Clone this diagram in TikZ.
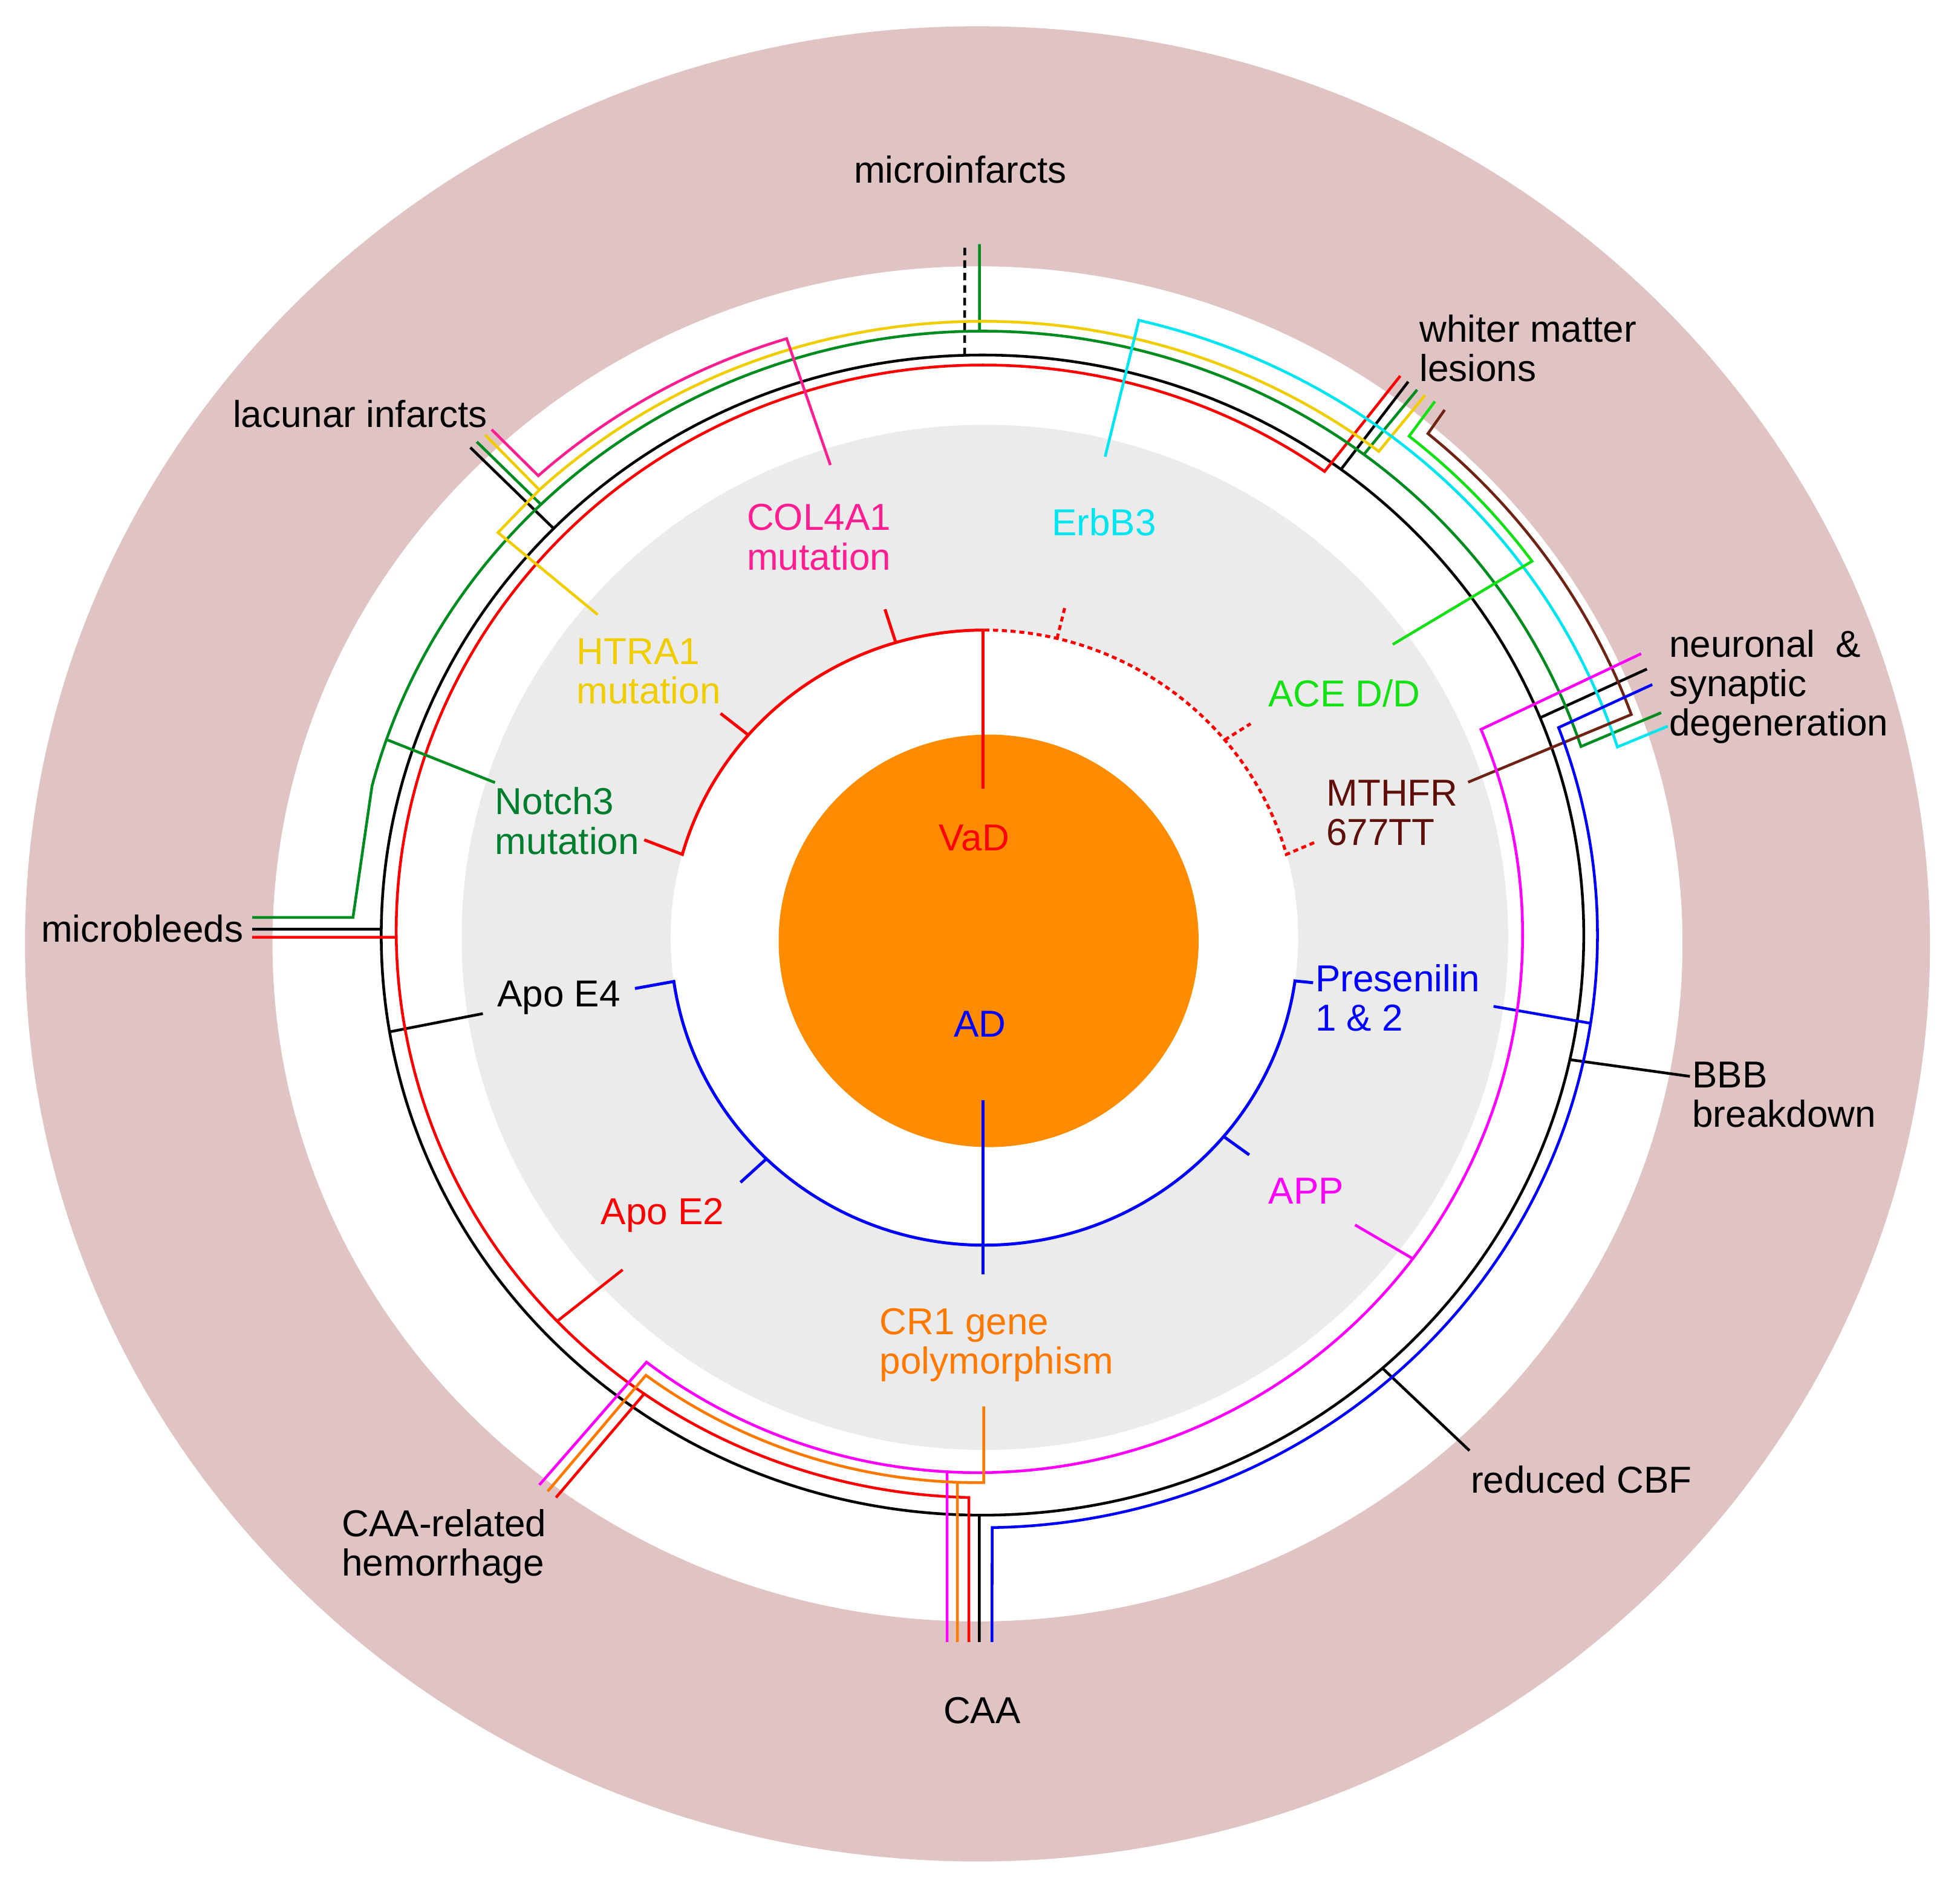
\documentclass[tikz,border=0pt]{standalone}
\usepackage{fontspec}
\setmainfont{Liberation Sans}
\definecolor{ringpink}{RGB}{224,195,195}
\definecolor{diskgray}{RGB}{235,235,235}
\definecolor{coreorange}{RGB}{255,140,0}
\definecolor{cred}{RGB}{255,0,0}
\definecolor{cdkgreen}{RGB}{0,140,30}
\definecolor{cnotch}{RGB}{0,125,45}
\definecolor{cyellow}{RGB}{240,205,0}
\definecolor{cdpink}{RGB}{255,30,145}
\definecolor{cmag}{RGB}{255,0,255}
\definecolor{ccyan}{RGB}{0,230,240}
\definecolor{cltgreen}{RGB}{20,225,20}
\definecolor{cbrown}{RGB}{110,35,20}
\definecolor{cbrowntxt}{RGB}{95,15,10}
\definecolor{cblue}{RGB}{0,0,255}
\definecolor{corange}{RGB}{255,120,0}
\newcommand\lblfont{\fontsize{30}{31.5}\selectfont}
\begin{document}
\begin{tikzpicture}[x=1pt,y=1pt,
  ln/.style={line width=2.2pt},
  lni/.style={line width=2.4pt},
  dotline/.style={dash pattern=on 4pt off 3pt},
  dashline/.style={dash pattern=on 6pt off 4pt},
  lbl/.style={font=\lblfont, inner sep=0pt, align=left}]
\useasboundingbox (-786,-759) rectangle (782,748);
% rings and disks
\fill[ringpink, even odd rule] (-4,-7) ellipse [x radius=762, y radius=734] (-4,-7) ellipse [x radius=564, y radius=542];
\fill[diskgray] (1.9,-1.8) ellipse [x radius=418.6, y radius=410];
\fill[white] (1.5,-2) ellipse [x radius=251, y radius=246];
\fill[coreorange] (4.9,-4.6) ellipse [x radius=168, y radius=165];

% inner VaD / AD arcs
\begin{scope}[shift={(1.5,-2)}]
  \draw[lni, cred] (-272.1,78.2) -- (164.3:251 and 246) arc[start angle=164.3, end angle=90, x radius=251, y radius=246];
  \draw[lni, cred, dotline] (90:251 and 246) arc[start angle=90, end angle=15.7, x radius=251, y radius=246] -- (264.8,76.4);
  \draw[lni, cred] (-1,246) -- (-1,119);
  \draw[lni, cred] (106.4:251 and 246) -- (-79.5,262.6);
  \draw[lni, cred] (138.8:251 and 246) -- (-211,179.3);
  \draw[lni, cred, dotline] (76.6:251 and 246) -- (64.9,266.2);
  \draw[lni, cred, dotline] (40:251 and 246) -- (213,171.1);
  \draw[lni, cblue] (-279.5,-40.7) -- (188.2:251 and 246) arc[start angle=188.2, end angle=351.9, x radius=251, y radius=246] -- (263,-36.1);
  \draw[lni, cblue] (226:251 and 246) -- (-195.1,-195.8);
  \draw[lni, cblue] (319.7:251 and 246) -- (211.9,-173.8);
  \draw[lni, cblue] (-1,-130.1) -- (-1,-269.6);
\end{scope}

% black circle and its ticks
\draw[ln, black] (0,0) ellipse [x radius=481, y radius=464];
\draw[ln, black, dashline] (91.7:481 and 464) -- (-14.2,552.7);
\draw[ln, black] (135.5:481 and 464) -- (-409.7,390);
\draw[ln, black] (179.42:481 and 464) -- (-584.2,4.7);
\draw[ln, black] (189.6:481 and 464) -- (-399.7,-62.8);
\draw[ln, black] (53.4:481 and 464) -- (340.6,442.7);
\draw[ln, black] (22:481 and 464) -- (531.5,212.8);
\draw[ln, black] (-12.4:481 and 464) -- (565.9,-113);
\draw[ln, black] (-48.3:481 and 464) -- (389.6,-412.4);
\draw[ln, black] (269.7:481 and 464) -- (-2.5,-565.4);

% red outer arc
\begin{scope}[shift={(0,3)}]
  \draw[ln, cred] (334.2,444.3) -- (54.3:469 and 453) arc[start angle=54.3, end angle=268.67, x radius=469, y radius=453] -- (-10.9,-568.4);
  \draw[ln, cred] (180.6:469 and 453) -- (-584.2,-4.7);
  \draw[ln, cred] (223.5:469 and 453) -- (-287.9,-270.7);
  \draw[ln, cred] (234.75:469 and 453) -- (-341.2,-452.9);
\end{scope}

% dark green
\draw[ln, cdkgreen] (542.9,177.9) -- (18.2:504 and 483) arc[start angle=18.2, end angle=165.7, x radius=504, y radius=483] -- (-503.6,14.1) -- (-584.2,14.1);
\draw[ln, cdkgreen] (90.27:504 and 483) -- (-2.4,552.7);
\draw[ln, cdkgreen] (134.5:504 and 483) -- (-404.6,394.6);
\draw[ln, cdkgreen] (52.75:504 and 483) -- (347.7,436.2);
\draw[ln, cdkgreen] (161.1:504 and 483) -- (-390,122);

% yellow (HTRA1)
\draw[ln, cyellow] (354.1,431.9) -- (52:515 and 491) arc[start angle=52, end angle=133.5, x radius=515, y radius=491] -- (-387.6,322) -- (-307.8,256.3);
\draw[ln, cyellow] (133.5:515 and 491) -- (-397.8,400.1);

% deep pink (COL4A1)
\draw[ln, cdpink] (-392.7,404.4) -- (132.7:524 and 500) arc[start angle=132.7, end angle=107.4, x radius=524, y radius=500] -- (-121.7,376);

% cyan (ErbB3)
\draw[ln, ccyan] (98.1,382.7) -- (76.4:532 and 506) arc[start angle=76.4, end angle=17.3, x radius=532, y radius=506] -- (548.2,167.1);

% light green (ACE D/D)
\draw[ln, cltgreen] (361.9,426.9) -- (50.8:540 and 515) arc[start angle=50.8, end angle=35.5, x radius=540, y radius=515] -- (328.2,232.5);

% brown (MTHFR)
\draw[ln, cbrown] (369.7,420.1) -- (49.7:551 and 526) arc[start angle=49.7, end angle=19.6, x radius=551, y radius=526] -- (388.5,122.3);

% blue outer (Presenilin)
\draw[ln, cblue] (535.8,200.4) -- (20.5:492 and 474) arc[start angle=20.5, end angle=-89.1, x radius=492, y radius=474] -- (7.6,-565.4);
\draw[ln, cblue] (408.8,-57) -- (-8.56:492 and 474);

% magenta (APP) and orange (CR1)
\begin{scope}[shift={(-4,0)}]
  \draw[ln, cmag] (530.9,225.1) -- (22.5:436 and 430) arc[start angle=22.5, end angle=-127.4, x radius=436, y radius=430] -- (-350.5,-439.8);
  \draw[ln, cmag] (-93.2:436 and 430) -- (-24.3,-565.4);
  \draw[ln, cmag] (-37:436 and 430) -- (302,-231.8);
  \draw[ln, corange] (5,-377) -- (-89.36:446 and 438) arc[start angle=-89.36, end angle=-126.5, x radius=446, y radius=438] -- (-343.8,-444.9);
  \draw[ln, corange] (-92.07:446 and 438) -- (-16.1,-565.4);
\end{scope}

% labels
\node[lbl] (microinfarcts) at (-17.7,612.4) {microinfarcts};
\node[lbl] (lacunar) at (-498,417) {lacunar infarcts};
\node[lbl, anchor=west, text=cdpink] (col) at (-188.6,318.3) {COL4A1\\mutation};
\node[lbl, text=ccyan] (erb) at (97.2,330.5) {ErbB3};
\node[lbl, anchor=west, text=cyellow] (htra) at (-324.8,211) {HTRA1\\mutation};
\node[lbl, anchor=west, text=cnotch] (notch) at (-390,91.3) {Notch3\\mutation};
\node[lbl, anchor=west] (wml) at (349.5,469.5) {whiter matter\\lesions};
\node[lbl, text=cltgreen] (ace) at (289.5,193.3) {ACE D/D};
\node[lbl, anchor=west, text=cbrowntxt] (mthfr) at (275,97.6) {MTHFR\\677TT};
\node[lbl, anchor=west] (nsd) at (549.2,198.5) {neuronal\ \ \&\\synaptic\\degeneration};
\node[lbl] (mb) at (-672.2,5.2) {microbleeds};
\node[lbl] (apoe4) at (-339,-50) {Apo E4};
\node[lbl, anchor=west, text=cblue] (psen) at (266.1,-50.3) {Presenilin\\1 \& 2};
\node[lbl, anchor=west] (bbb) at (567.7,-127.5) {BBB\\breakdown};
\node[lbl, text=cmag] (app) at (259,-204.7) {APP};
\node[lbl, text=cred] (apoe2) at (-256,-224.3) {Apo E2};
\node[lbl, anchor=west, text=corange] (cr1) at (-82.3,-327.9) {CR1 gene\\polymorphism};
\node[lbl] (cbf) at (479,-435.4) {reduced CBF};
\node[lbl, anchor=west] (hem) at (-512.6,-489) {CAA-related\\hemorrhage};
\node[lbl] (caa) at (-0.4,-620.3) {CAA};
\node[lbl, text=cred] (vad) at (-6.6,77.9) {VaD};
\node[lbl, text=cblue] (ad) at (-2.1,-71.1) {AD};
\end{tikzpicture}
\end{document}
